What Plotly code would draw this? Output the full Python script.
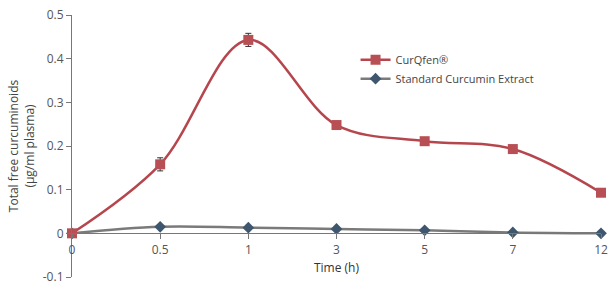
import plotly.graph_objects as go

time_labels = ["0", "0.5", "1", "3", "5", "7", "12"]
curqfen = [0.0, 0.158, 0.443, 0.248, 0.211, 0.193, 0.093]
curqfen_err = [0.0, 0.015, 0.015, 0.004, 0.004, 0.004, 0.003]
standard = [0.0, 0.015, 0.013, 0.010, 0.007, 0.002, 0.0]
y_ticks = [-0.1, 0, 0.1, 0.2, 0.3, 0.4, 0.5]
y_tick_text = ["-0.1", "0", "0.1", "0.2", "0.3", "0.4", "0.5"]

xpos = list(range(len(time_labels)))
FONT = "Open Sans"
GRAY = "#555555"

fig = go.Figure()
fig.add_trace(go.Scatter(
    x=xpos, y=standard, name="Standard Curcumin Extract",
    mode="lines+markers", line=dict(color="#7a7a7a", width=2.5, shape="spline"),
    marker=dict(symbol="diamond", size=9, color="#3e566e"),
    cliponaxis=False,
))
fig.add_trace(go.Scatter(
    x=xpos, y=curqfen, name="CurQfen®",
    mode="lines+markers", line=dict(color="#b6464d", width=2.5, shape="spline"),
    marker=dict(symbol="square", size=10, color="#b84f55"),
    error_y=dict(type="data", array=curqfen_err, color="#333333", thickness=1, width=3),
    cliponaxis=False,
))

fig.update_layout(
    width=610, height=284,
    margin=dict(l=72, r=9, t=15, b=7, autoexpand=False),
    paper_bgcolor="white", plot_bgcolor="white",
    font=dict(family=FONT, size=11, color=GRAY),
    showlegend=True,
    legend=dict(x=0.536, y=0.885, xanchor="left", yanchor="top",
                traceorder="reversed", bgcolor="rgba(0,0,0,0)",
                font=dict(size=11, color="#444444"), itemwidth=30,
                tracegroupgap=6),
    xaxis=dict(
        range=[0, 6], tickvals=xpos, ticktext=time_labels,
        showgrid=False, zeroline=False, showline=True, linecolor="#777777", linewidth=1.2,
        ticks="outside", ticklen=5, tickcolor="#777777",
        anchor="free", position=1/6, automargin=False, ticklabeloverflow="allow",
        tickfont=dict(size=12, color=GRAY),
        title=dict(text="Time (h)", font=dict(size=12, color="#333333"), standoff=6),
    ),
    yaxis=dict(
        range=[-0.1, 0.5], tickvals=y_ticks, ticktext=y_tick_text,
        showgrid=False, zeroline=False, showline=True, linecolor="#777777", linewidth=1.2,
        ticks="outside", ticklen=5, tickcolor="#777777", automargin=False,
        ticklabeloverflow="allow",
        tickfont=dict(size=12, color=GRAY),
        title=dict(text="Total free curcuminoids<br>(µg/ml plasma)", font=dict(size=12, color="#444444"), standoff=5),
    ),
)

fig.write_html(
    "out.html",
    config={"displayModeBar": False},
    post_script="document.body.style.margin='0';document.body.style.overflow='hidden';",
)
